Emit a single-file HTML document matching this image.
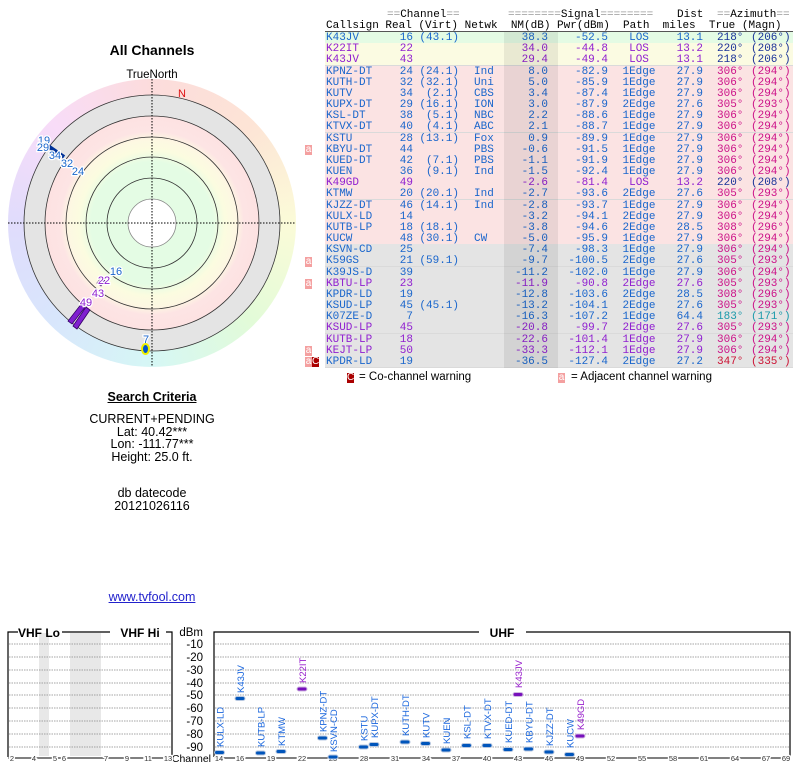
<!DOCTYPE html>
<html><head><meta charset="utf-8"><style>
body{margin:0;width:800px;height:768px;position:relative;background:#fff;font-family:"Liberation Sans",sans-serif;overflow:hidden}
.r{position:absolute;left:325px;width:468px;height:11px;font:11px/12px "Liberation Mono",monospace;color:#1a66cc;border-bottom:1px solid #dadada;box-sizing:content-box}
.r span{position:absolute;top:0;white-space:pre}
.g{background:#e4fbe4}.y{background:#fbfbe2}.p{background:#fbe3e3}.q{background:#e4e4e4}
.pu{color:#9020d0}
.cs{left:1px}.re{left:55px;width:33px;text-align:right}.vi{left:90px;width:44px;text-align:right}
.nw{left:149px}.nm{left:185px;width:38px;text-align:right}.pw{left:235px;width:48px;text-align:right}
.pa{left:295px;width:38px;text-align:center}.di{left:345px;width:33px;text-align:right}
.tr{left:392px;color:#cc1188}.mg{left:426px;color:#cc1188}
.b .tr,.b .mg{color:#1a3399}.t .tr,.t .mg{color:#1a99aa}.k .tr,.k .mg{color:#cc1133}
.hd{position:absolute;font:11px/11px "Liberation Mono",monospace;color:#000;white-space:pre}
.hd i{font-style:normal;color:#999}
.wa{position:absolute;left:305px;width:7px;height:10px;background:#f4a0a0;color:#fff;font:10px/10px "Liberation Sans",sans-serif;text-align:center}
.wc{position:absolute;left:312px;width:7px;height:10px;background:#aa0000;color:#fff;font:10px/10px "Liberation Sans",sans-serif;text-align:center}
.ct{position:absolute;width:304px;left:0;text-align:center;font-size:12.5px;color:#000}
</style></head><body>

<div class="ct" style="top:42px;font-size:14px;font-weight:bold">All Channels</div>
<div style="position:absolute;left:8px;top:79px;width:288px;height:288px;border-radius:50%;background:conic-gradient(#fcdcdc,#fde4d6 45deg,#fbfbd8 90deg,#e2fbd8 135deg,#d6f7f5 180deg,#d8e6fc 225deg,#e0dcfc 270deg,#f8dcf8 315deg,#fcdcdc)"></div>
<svg style="position:absolute;left:0;top:0" width="800" height="768">
<defs><radialGradient id="rg" cx="152" cy="223" r="107" gradientUnits="userSpaceOnUse">
<stop offset="0" stop-color="#e4fce4"/><stop offset="0.57" stop-color="#e4fce4"/><stop offset="0.68" stop-color="#fbfce0"/><stop offset="0.78" stop-color="#fdf8e2"/><stop offset="0.86" stop-color="#fde4e4"/><stop offset="1" stop-color="#fde2e2"/></radialGradient></defs>
<circle cx="152" cy="223" r="128" fill="#e4e4e4" stroke="#333" stroke-width="0.8"/>
<circle cx="152" cy="223" r="107" fill="url(#rg)" stroke="#333" stroke-width="0.8"/>
<g fill="none" stroke="#333" stroke-width="0.8"><circle cx="152" cy="223" r="86"/><circle cx="152" cy="223" r="66"/><circle cx="152" cy="223" r="45"/></g>
<circle cx="152" cy="223" r="24" fill="#fff" stroke="#888" stroke-width="0.8"/>
<g stroke="#000" stroke-width="1" stroke-dasharray="1.5,1.5"><line x1="8" y1="223" x2="296" y2="223"/><line x1="152" y1="79" x2="152" y2="367"/></g>
<text x="152" y="78" font-size="11.5" text-anchor="middle" font-family="Liberation Sans">TrueNorth</text>
<text x="182" y="97" font-size="11" fill="#dd1111" text-anchor="middle" font-family="Liberation Sans">N</text>
<line x1="48" y1="146" x2="64" y2="157" stroke="#003399" stroke-width="4"/>
<g stroke="#330066" stroke-width="0.8" fill="#8020d0"><polygon points="68,321 72,324 86,306 82,303"/><polygon points="73,326 77,329 90,310 86,307"/><polygon points="97,283 101,286 105,281 101,278"/></g>
<g font-family="Liberation Sans" font-size="11" text-anchor="middle" stroke="#fff" stroke-width="2.5" paint-order="stroke" fill="#1a66cc">
<text x="44" y="144">19</text><text x="43" y="151">29</text><text x="55" y="159">34</text><text x="67" y="167">32</text><text x="78" y="175">24</text>
<text x="116" y="275">16</text><text x="146" y="343">7</text>
<g fill="#9020d0"><text x="104" y="284">22</text><text x="98" y="297">43</text><text x="86" y="306">49</text></g></g>
<ellipse cx="145.5" cy="349" rx="3.5" ry="5" fill="#0055cc" stroke="#eeee00" stroke-width="2"/>

<g font-family="Liberation Sans">
<g stroke="#000" stroke-width="1.2" fill="none">
<polyline points="18,632 8,632 8,757"/><line x1="62" y1="632" x2="110" y2="632"/><polyline points="166,632 172,632 172,757"/>
<polyline points="479,632 214,632 214,757"/><polyline points="526,632 790,632 790,757"/>
</g>
<rect x="39" y="633" width="10" height="123" fill="#e8e8e8"/><rect x="70" y="633" width="31" height="123" fill="#e8e8e8"/>
<g stroke="#888" stroke-width="0.8" stroke-dasharray="1.5,1">
<path d="M9 644H171M9 657H171M9 670H171M9 683H171M9 695H171M9 708H171M9 721H171M9 734H171M9 747H171"/>
<path d="M215 644H789M215 657H789M215 670H789M215 683H789M215 695H789M215 708H789M215 721H789M215 734H789M215 747H789"/>
</g>
<text x="39" y="637" font-size="12" font-weight="bold" text-anchor="middle">VHF Lo</text>
<text x="140" y="637" font-size="12" font-weight="bold" text-anchor="middle">VHF Hi</text>
<text x="502" y="637" font-size="12" font-weight="bold" text-anchor="middle">UHF</text>
<line x1="8" y1="758" x2="172" y2="758" stroke="#000"/><line x1="214" y1="758" x2="790" y2="758" stroke="#000"/>
<g font-size="11.5" text-anchor="end"><text x="203" y="636">dBm</text><text x="203" y="648">-10</text><text x="203" y="661">-20</text><text x="203" y="674">-30</text><text x="203" y="687">-40</text><text x="203" y="699">-50</text><text x="203" y="712">-60</text><text x="203" y="725">-70</text><text x="203" y="738">-80</text><text x="203" y="751">-90</text></g>
<text x="211" y="762" font-size="10.5" text-anchor="end" stroke="#fff" stroke-width="3" paint-order="stroke">Channel</text>
<g font-size="7.5" text-anchor="middle" fill="#333" stroke="#fff" stroke-width="3" paint-order="stroke">
<text x="12" y="761">2</text><text x="34" y="761">4</text><text x="55" y="761">5</text><text x="64" y="761">6</text><text x="106" y="761">7</text><text x="127" y="761">9</text><text x="148" y="761">11</text><text x="168" y="761">13</text>
<text x="219" y="761">14</text><text x="240" y="761">16</text><text x="271" y="761">19</text><text x="302" y="761">22</text><text x="333" y="761">25</text><text x="364" y="761">28</text><text x="395" y="761">31</text><text x="426" y="761">34</text><text x="456" y="761">37</text><text x="487" y="761">40</text><text x="518" y="761">43</text><text x="549" y="761">46</text><text x="580" y="761">49</text><text x="611" y="761">52</text><text x="642" y="761">55</text><text x="673" y="761">58</text><text x="704" y="761">61</text><text x="735" y="761">64</text><text x="766" y="761">67</text><text x="786" y="761">69</text>
</g>
<g fill="#0055bb" stroke="#b8c8e0" stroke-width="1">
<rect x="214.5" y="750.5" width="10" height="4" rx="2"/><rect x="235" y="696.5" width="10" height="4" rx="2"/><rect x="255.5" y="751" width="10" height="4" rx="2"/><rect x="276" y="749.5" width="10" height="4" rx="2"/><rect x="317.5" y="736" width="10" height="4" rx="2"/><rect x="328" y="755" width="10" height="4" rx="2"/><rect x="358.5" y="745" width="10" height="4" rx="2"/><rect x="369" y="742.5" width="10" height="4" rx="2"/><rect x="400" y="740" width="10" height="4" rx="2"/><rect x="420.5" y="741.5" width="10" height="4" rx="2"/><rect x="441" y="748" width="10" height="4" rx="2"/><rect x="461.5" y="743.5" width="10" height="4" rx="2"/><rect x="482" y="743.5" width="10" height="4" rx="2"/><rect x="503" y="747.5" width="10" height="4" rx="2"/><rect x="523.5" y="747" width="10" height="4" rx="2"/><rect x="544" y="750" width="10" height="4" rx="2"/><rect x="564.5" y="752.5" width="10" height="4" rx="2"/>
</g>
<g fill="#7711bb" stroke="#d0b8e0" stroke-width="1"><rect x="297" y="687" width="10" height="4" rx="2"/><rect x="513" y="692.5" width="10" height="4" rx="2"/><rect x="575" y="734" width="10" height="4" rx="2"/></g>
<g font-size="9.5" fill="#1a66dd">
<text transform="translate(223.5,747) rotate(-90)">KULX-LD</text><text transform="translate(244,693) rotate(-90)">K43JV</text><text transform="translate(264.5,747) rotate(-90)">KUTB-LP</text><text transform="translate(285,746) rotate(-90)">KTMW</text><text transform="translate(326.5,732) rotate(-90)">KPNZ-DT</text><text transform="translate(337,752) rotate(-90)">KSVN-CD</text><text transform="translate(367.5,741) rotate(-90)">KSTU</text><text transform="translate(378,738) rotate(-90)">KUPX-DT</text><text transform="translate(409,736) rotate(-90)">KUTH-DT</text><text transform="translate(429.5,738) rotate(-90)">KUTV</text><text transform="translate(450,744) rotate(-90)">KUEN</text><text transform="translate(470.5,739) rotate(-90)">KSL-DT</text><text transform="translate(491,739) rotate(-90)">KTVX-DT</text><text transform="translate(512,743) rotate(-90)">KUED-DT</text><text transform="translate(532.5,743) rotate(-90)">KBYU-DT</text><text transform="translate(553,746) rotate(-90)">KJZZ-DT</text><text transform="translate(573.5,748) rotate(-90)">KUCW</text>
<g fill="#9922cc"><text transform="translate(306,683) rotate(-90)">K22IT</text><text transform="translate(522,688) rotate(-90)">K43JV</text><text transform="translate(584,730) rotate(-90)">K49GD</text></g>
</g>
</g>
</svg>

<div class="ct" style="top:390px;font-weight:bold;font-size:12.5px"><span style="text-decoration:underline">Search Criteria</span></div>
<div class="ct" style="top:412px">CURRENT+PENDING</div>
<div class="ct" style="top:425px">Lat: 40.42***</div>
<div class="ct" style="top:437px">Lon: -111.77***</div>
<div class="ct" style="top:450px">Height: 25.0 ft.</div>
<div class="ct" style="top:486px">db datecode</div>
<div class="ct" style="top:499px">20121026116</div>
<div class="ct" style="top:590px;color:#2222cc;text-decoration:underline">www.tvfool.com</div>

<div class="hd" style="left:387px;top:10px"><i>==</i>Channel<i>==</i></div>
<div class="hd" style="left:508px;top:10px"><i>========</i>Signal<i>========</i></div>
<div class="hd" style="left:677px;top:10px">Dist</div>
<div class="hd" style="left:717px;top:10px"><i>==</i>Azimuth<i>==</i></div>
<div class="hd" style="left:326px;top:21px">Callsign Real (Virt) Netwk  NM(dB) Pwr(dBm)  Path  miles  True (Magn)</div>
<div style="position:absolute;left:325px;top:31px;width:468px;height:1px;background:#555"></div>

<div class="r g b" style="top:32px"><span class="cs">K43JV</span><span class="re">16</span><span class="vi">(43.1)</span><span class="nm">38.3</span><span class="pw">-52.5</span><span class="pa">LOS</span><span class="di">13.1</span><span class="tr">218°</span><span class="mg">(206°)</span></div>
<div class="r y b pu" style="top:43.2px"><span class="cs">K22IT</span><span class="re">22</span><span class="nm">34.0</span><span class="pw">-44.8</span><span class="pa">LOS</span><span class="di">13.2</span><span class="tr">220°</span><span class="mg">(208°)</span></div>
<div class="r y b pu" style="top:54.3px"><span class="cs">K43JV</span><span class="re">43</span><span class="nm">29.4</span><span class="pw">-49.4</span><span class="pa">LOS</span><span class="di">13.1</span><span class="tr">218°</span><span class="mg">(206°)</span></div>
<div class="r p" style="top:65.5px"><span class="cs">KPNZ-DT</span><span class="re">24</span><span class="vi">(24.1)</span><span class="nw">Ind</span><span class="nm">8.0</span><span class="pw">-82.9</span><span class="pa">1Edge</span><span class="di">27.9</span><span class="tr">306°</span><span class="mg">(294°)</span></div>
<div class="r p" style="top:76.7px"><span class="cs">KUTH-DT</span><span class="re">32</span><span class="vi">(32.1)</span><span class="nw">Uni</span><span class="nm">5.0</span><span class="pw">-85.9</span><span class="pa">1Edge</span><span class="di">27.9</span><span class="tr">306°</span><span class="mg">(294°)</span></div>
<div class="r p" style="top:87.9px"><span class="cs">KUTV</span><span class="re">34</span><span class="vi">(2.1)</span><span class="nw">CBS</span><span class="nm">3.4</span><span class="pw">-87.4</span><span class="pa">1Edge</span><span class="di">27.9</span><span class="tr">306°</span><span class="mg">(294°)</span></div>
<div class="r p" style="top:99px"><span class="cs">KUPX-DT</span><span class="re">29</span><span class="vi">(16.1)</span><span class="nw">ION</span><span class="nm">3.0</span><span class="pw">-87.9</span><span class="pa">2Edge</span><span class="di">27.6</span><span class="tr">305°</span><span class="mg">(293°)</span></div>
<div class="r p" style="top:110.2px"><span class="cs">KSL-DT</span><span class="re">38</span><span class="vi">(5.1)</span><span class="nw">NBC</span><span class="nm">2.2</span><span class="pw">-88.6</span><span class="pa">1Edge</span><span class="di">27.9</span><span class="tr">306°</span><span class="mg">(294°)</span></div>
<div class="r p" style="top:121.4px"><span class="cs">KTVX-DT</span><span class="re">40</span><span class="vi">(4.1)</span><span class="nw">ABC</span><span class="nm">2.1</span><span class="pw">-88.7</span><span class="pa">1Edge</span><span class="di">27.9</span><span class="tr">306°</span><span class="mg">(294°)</span></div>
<div class="r p" style="top:132.5px"><span class="cs">KSTU</span><span class="re">28</span><span class="vi">(13.1)</span><span class="nw">Fox</span><span class="nm">0.9</span><span class="pw">-89.9</span><span class="pa">1Edge</span><span class="di">27.9</span><span class="tr">306°</span><span class="mg">(294°)</span></div>
<div class="r p" style="top:143.7px"><span class="cs">KBYU-DT</span><span class="re">44</span><span class="nw">PBS</span><span class="nm">-0.6</span><span class="pw">-91.5</span><span class="pa">1Edge</span><span class="di">27.9</span><span class="tr">306°</span><span class="mg">(294°)</span></div>
<div class="r p" style="top:154.9px"><span class="cs">KUED-DT</span><span class="re">42</span><span class="vi">(7.1)</span><span class="nw">PBS</span><span class="nm">-1.1</span><span class="pw">-91.9</span><span class="pa">1Edge</span><span class="di">27.9</span><span class="tr">306°</span><span class="mg">(294°)</span></div>
<div class="r p" style="top:166px"><span class="cs">KUEN</span><span class="re">36</span><span class="vi">(9.1)</span><span class="nw">Ind</span><span class="nm">-1.5</span><span class="pw">-92.4</span><span class="pa">1Edge</span><span class="di">27.9</span><span class="tr">306°</span><span class="mg">(294°)</span></div>
<div class="r p b pu" style="top:177.2px"><span class="cs">K49GD</span><span class="re">49</span><span class="nm">-2.6</span><span class="pw">-81.4</span><span class="pa">LOS</span><span class="di">13.2</span><span class="tr">220°</span><span class="mg">(208°)</span></div>
<div class="r p" style="top:188.4px"><span class="cs">KTMW</span><span class="re">20</span><span class="vi">(20.1)</span><span class="nw">Ind</span><span class="nm">-2.7</span><span class="pw">-93.6</span><span class="pa">2Edge</span><span class="di">27.6</span><span class="tr">305°</span><span class="mg">(293°)</span></div>
<div class="r p" style="top:199.6px"><span class="cs">KJZZ-DT</span><span class="re">46</span><span class="vi">(14.1)</span><span class="nw">Ind</span><span class="nm">-2.8</span><span class="pw">-93.7</span><span class="pa">1Edge</span><span class="di">27.9</span><span class="tr">306°</span><span class="mg">(294°)</span></div>
<div class="r p" style="top:210.7px"><span class="cs">KULX-LD</span><span class="re">14</span><span class="nm">-3.2</span><span class="pw">-94.1</span><span class="pa">2Edge</span><span class="di">27.9</span><span class="tr">306°</span><span class="mg">(294°)</span></div>
<div class="r p" style="top:221.9px"><span class="cs">KUTB-LP</span><span class="re">18</span><span class="vi">(18.1)</span><span class="nm">-3.8</span><span class="pw">-94.6</span><span class="pa">2Edge</span><span class="di">28.5</span><span class="tr">308°</span><span class="mg">(296°)</span></div>
<div class="r p" style="top:233.1px"><span class="cs">KUCW</span><span class="re">48</span><span class="vi">(30.1)</span><span class="nw">CW</span><span class="nm">-5.0</span><span class="pw">-95.9</span><span class="pa">1Edge</span><span class="di">27.9</span><span class="tr">306°</span><span class="mg">(294°)</span></div>
<div class="r q" style="top:244.2px"><span class="cs">KSVN-CD</span><span class="re">25</span><span class="nm">-7.4</span><span class="pw">-98.3</span><span class="pa">1Edge</span><span class="di">27.9</span><span class="tr">306°</span><span class="mg">(294°)</span></div>
<div class="r q" style="top:255.4px"><span class="cs">K59GS</span><span class="re">21</span><span class="vi">(59.1)</span><span class="nm">-9.7</span><span class="pw">-100.5</span><span class="pa">2Edge</span><span class="di">27.6</span><span class="tr">305°</span><span class="mg">(293°)</span></div>
<div class="r q" style="top:266.6px"><span class="cs">K39JS-D</span><span class="re">39</span><span class="nm">-11.2</span><span class="pw">-102.0</span><span class="pa">1Edge</span><span class="di">27.9</span><span class="tr">306°</span><span class="mg">(294°)</span></div>
<div class="r q pu" style="top:277.7px"><span class="cs">KBTU-LP</span><span class="re">23</span><span class="nm">-11.9</span><span class="pw">-90.8</span><span class="pa">2Edge</span><span class="di">27.6</span><span class="tr">305°</span><span class="mg">(293°)</span></div>
<div class="r q" style="top:288.9px"><span class="cs">KPDR-LD</span><span class="re">19</span><span class="nm">-12.8</span><span class="pw">-103.6</span><span class="pa">2Edge</span><span class="di">28.5</span><span class="tr">308°</span><span class="mg">(296°)</span></div>
<div class="r q" style="top:300.1px"><span class="cs">KSUD-LP</span><span class="re">45</span><span class="vi">(45.1)</span><span class="nm">-13.2</span><span class="pw">-104.1</span><span class="pa">2Edge</span><span class="di">27.6</span><span class="tr">305°</span><span class="mg">(293°)</span></div>
<div class="r q t" style="top:311.3px"><span class="cs">K07ZE-D</span><span class="re">7</span><span class="nm">-16.3</span><span class="pw">-107.2</span><span class="pa">1Edge</span><span class="di">64.4</span><span class="tr">183°</span><span class="mg">(171°)</span></div>
<div class="r q pu" style="top:322.4px"><span class="cs">KSUD-LP</span><span class="re">45</span><span class="nm">-20.8</span><span class="pw">-99.7</span><span class="pa">2Edge</span><span class="di">27.6</span><span class="tr">305°</span><span class="mg">(293°)</span></div>
<div class="r q pu" style="top:333.6px"><span class="cs">KUTB-LP</span><span class="re">18</span><span class="nm">-22.6</span><span class="pw">-101.4</span><span class="pa">1Edge</span><span class="di">27.9</span><span class="tr">306°</span><span class="mg">(294°)</span></div>
<div class="r q pu" style="top:344.8px"><span class="cs">KEJT-LP</span><span class="re">50</span><span class="nm">-33.3</span><span class="pw">-112.1</span><span class="pa">1Edge</span><span class="di">27.9</span><span class="tr">306°</span><span class="mg">(294°)</span></div>
<div class="r q k" style="top:355.9px"><span class="cs">KPDR-LD</span><span class="re">19</span><span class="nm">-36.5</span><span class="pw">-127.4</span><span class="pa">2Edge</span><span class="di">27.2</span><span class="tr">347°</span><span class="mg">(335°)</span></div>

<div style="position:absolute;left:504px;top:32px;width:54px;height:336px;background:rgba(0,0,0,0.07)"></div>

<div class="wa" style="top:145px">a</div>
<div class="wa" style="top:257px">a</div>
<div class="wa" style="top:279px">a</div>
<div class="wa" style="top:346px">a</div>
<div class="wa" style="top:357px">a</div><div class="wc" style="top:357px">C</div>

<div class="wc" style="left:347px;top:373px">C</div>
<div style="position:absolute;left:359px;top:371px;font-size:11.5px">= Co-channel warning</div>
<div class="wa" style="left:558px;top:373px">a</div>
<div style="position:absolute;left:571px;top:371px;font-size:11.5px">= Adjacent channel warning</div>
</body></html>
